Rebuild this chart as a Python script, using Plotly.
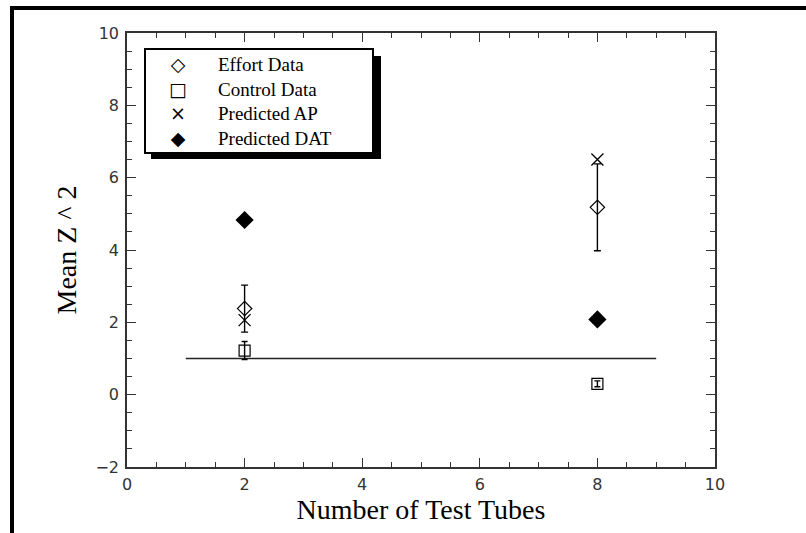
import plotly.graph_objects as go

# ---- data ----
tubes = [2, 8]
effort_mean = [2.38, 5.18]
effort_err = [0.65, 1.2]
control_mean = [1.22, 0.30]
control_err = [0.25, 0.08]
pred_ap = [2.06, 6.50]
pred_dat = [4.83, 2.08]
baseline_x = [1, 9]
baseline_y = [1, 1]

legend_labels = ["Effort Data", "Control Data", "Predicted AP", "Predicted DAT"]
legend_glyphs = ["\u25C7", "\u25A1", "\u00D7", "\u25C6"]

x_range = [0, 10]
y_range = [-2, 10]

W, H = 806, 533
ML, MR, MT, MB = 127, 91, 33, 66
PW, PH = W - ML - MR, H - MT - MB


def px_x(p):
    return (p - ML) / PW


def px_y(p):
    return (H - MB - p) / PH


fig = go.Figure()

fig.add_trace(go.Scatter(
    x=baseline_x, y=baseline_y, mode="lines",
    line=dict(color="#222", width=1.3), showlegend=False, hoverinfo="skip"))

fig.add_trace(go.Scatter(
    x=tubes, y=effort_mean, mode="markers", name=legend_labels[0],
    marker=dict(symbol="diamond-open", size=11, color="black", line=dict(width=1.2, color="black")),
    error_y=dict(type="data", array=effort_err, color="black", thickness=1.4, width=3.5),
    showlegend=False))

fig.add_trace(go.Scatter(
    x=tubes, y=control_mean, mode="markers", name=legend_labels[1],
    marker=dict(symbol="square-open", size=11, color="black", line=dict(width=1.2, color="black")),
    error_y=dict(type="data", array=control_err, color="black", thickness=1.4, width=3),
    showlegend=False))

fig.add_trace(go.Scatter(
    x=tubes, y=pred_ap, mode="markers", name=legend_labels[2],
    marker=dict(symbol="x-thin-open", size=12, color="black", line=dict(width=1.3, color="black")),
    showlegend=False))

fig.add_trace(go.Scatter(
    x=tubes, y=pred_dat, mode="markers", name=legend_labels[3],
    marker=dict(symbol="diamond", size=14, color="black"),
    showlegend=False))

axis_common = dict(
    showgrid=False, zeroline=False, showline=True, linecolor="#333", linewidth=1.5,
    mirror="ticks", ticks="inside", ticklen=9, tickwidth=1.3, tickcolor="#333",
    tickfont=dict(family="DejaVu Sans", size=16, color="#333"),
    minor=dict(ticks="inside", ticklen=5, tickwidth=1.1, tickcolor="#333", dtick=0.5, showgrid=False),
)

fig.update_xaxes(range=x_range, tick0=0, dtick=2, ticklabelstandoff=2,
                 title=dict(text="Number of Test Tubes",
                            font=dict(family="Liberation Serif", size=28, color="black"),
                            standoff=0),
                 **axis_common)
fig.update_yaxes(range=y_range, tick0=0, dtick=2, ticklabelstandoff=3,
                 title=dict(text="Mean Z ^ 2",
                            font=dict(family="Liberation Serif", size=28, color="black"),
                            standoff=11),
                 **axis_common)

shapes = [
    # page frame
    dict(type="rect", xref="paper", yref="paper",
         x0=px_x(12), x1=px_x(830), y0=px_y(560), y1=px_y(8),
         line=dict(color="black", width=4), fillcolor="rgba(0,0,0,0)", layer="above"),
    # legend shadow
    dict(type="rect", xref="paper", yref="paper",
         x0=px_x(151), x1=px_x(381), y0=px_y(159), y1=px_y(56),
         line=dict(color="black", width=0), fillcolor="black", layer="above"),
    # legend box
    dict(type="rect", xref="paper", yref="paper",
         x0=px_x(145), x1=px_x(373), y0=px_y(153), y1=px_y(49),
         line=dict(color="black", width=2), fillcolor="white", layer="above"),
]

legend_center_y = 101
annotations = [
    dict(xref="paper", yref="paper", x=px_x(178), y=px_y(legend_center_y),
         text="<br>".join(legend_glyphs), showarrow=False, xanchor="center", yanchor="middle",
         align="center", font=dict(family="DejaVu Sans", size=19, color="black")),
    dict(xref="paper", yref="paper", x=px_x(216), y=px_y(legend_center_y),
         text="<br>".join(legend_labels), showarrow=False, xanchor="left", yanchor="middle",
         align="left", font=dict(family="Liberation Serif", size=19, color="black")),
]

fig.update_layout(
    width=W, height=H,
    margin=dict(l=ML, r=MR, t=MT, b=MB),
    paper_bgcolor="white", plot_bgcolor="white",
    shapes=shapes, annotations=annotations,
    showlegend=False,
)

fig.write_html("out.html", config={"displayModeBar": False},
               post_script="document.body.style.margin='0';document.body.style.padding='0';")
